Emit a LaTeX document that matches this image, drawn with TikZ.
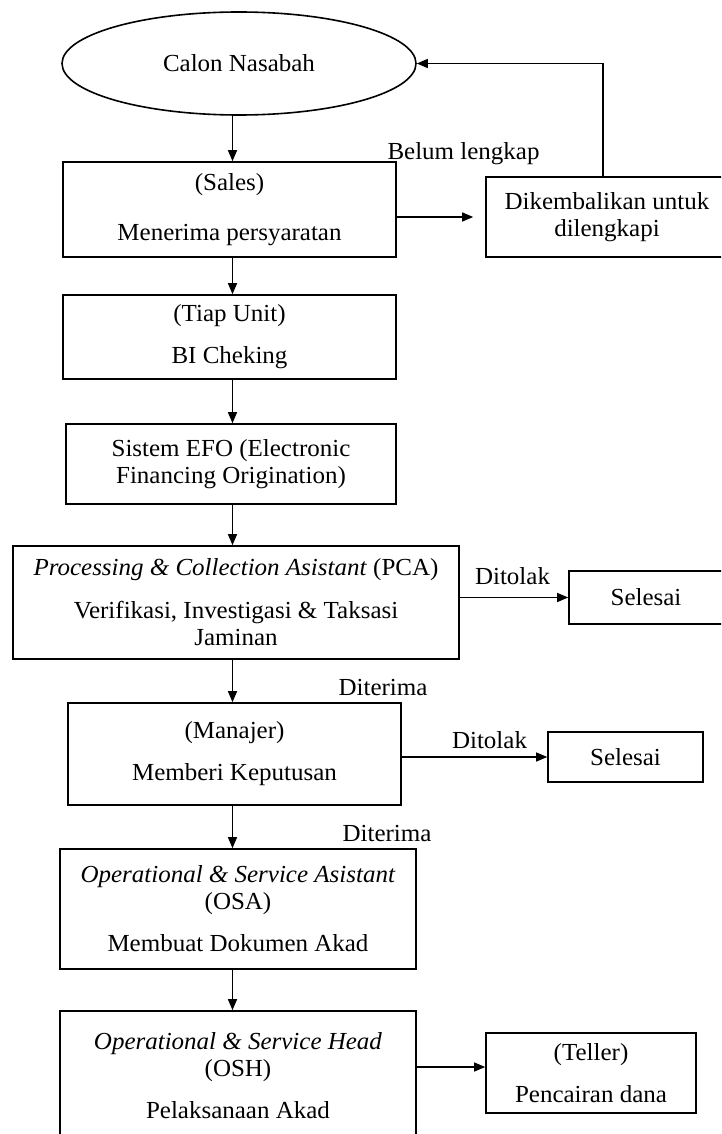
\documentclass[tikz,border=0pt]{standalone}
\usepackage{fontspec}
\setmainfont{Liberation Serif}[FakeStretch=1.02]
\usetikzlibrary{shapes.geometric,arrows.meta}
\begin{document}
\begin{tikzpicture}[x=1pt,y=-1pt,
  box/.style={draw,line width=1.6pt,inner sep=0pt,align=center,anchor=center},
  lbl/.style={inner sep=0pt,anchor=center},
  arr/.style={line width=1.2pt,-{Triangle[length=11pt,width=9pt]}},
  font=\fontsize{24.5}{27}\selectfont]
\useasboundingbox (0,0) rectangle (721,1134);
\clip (0,0) rectangle (721,1134);
\fill[white] (0,0) rectangle (721,1134);
\coordinate (ax) at (232.5,0);
\coordinate (fb) at (603,0);

\node[box,ellipse,minimum width=354pt,minimum height=103pt] (ell) at (239,63.5) {Calon Nasabah};
\node[box,minimum width=333pt,minimum height=95pt] (sales) at (229.5,209.5) {(Sales)\\[23pt]Menerima persyaratan};
\node[box,minimum width=242pt,minimum height=80pt] (dik) at (607,217) {Dikembalikan untuk\\dilengkapi};
\node[box,minimum width=333pt,minimum height=84pt] (tiap) at (229.5,337) {(Tiap Unit)\\[15pt]BI Cheking};
\node[box,minimum width=330pt,minimum height=80pt] (efo) at (231,464) {Sistem EFO (Electronic\\Financing Origination)};
\node[box,minimum width=446pt,minimum height=113pt] (pca) at (236,602.5) {\textit{Processing \& Collection Asistant} (PCA)\\[16pt]Verifikasi, Investigasi \& Taksasi\\Jaminan};
\node[box,minimum width=154pt,minimum height=53pt] (sel1) at (646,597.5) {Selesai};
\node[box,minimum width=333pt,minimum height=102pt] (man) at (234.5,754) {(Manajer)\\[15pt]Memberi Keputusan};
\node[box,minimum width=155pt,minimum height=50pt] (sel2) at (625.5,757) {Selesai};
\node[box,minimum width=356pt,minimum height=120pt] (osa) at (238,909) {\textit{Operational \& Service Asistant}\\(OSA)\\[15pt]Membuat Dokumen Akad};
\node[box,minimum width=356pt,minimum height=129pt] (osh) at (238,1075.5) {\textit{Operational \& Service Head}\\(OSH)\\[15pt]Pelaksanaan Akad};
\node[box,minimum width=210pt,minimum height=80pt] (tel) at (591,1073) {(Teller)\\[15pt]Pencairan dana};
\coordinate (tw) at ([yshift=6pt]tel.west);

\node[lbl] (l1) at (463.5,154) {Belum lengkap};
\node[lbl] (l2) at (512.5,576) {Ditolak};
\node[lbl] (l3) at (383,688) {Diterima};
\node[lbl] (l4) at (489.5,740) {Ditolak};
\node[lbl] (l5) at (387,833) {Diterima};

\draw[arr] (ell.south -| ax) -- (sales.north -| ax);
\draw[arr] (sales.south -| ax) -- (tiap.north -| ax);
\draw[arr] (tiap.south -| ax) -- (efo.north -| ax);
\draw[arr] (efo.south -| ax) -- (pca.north -| ax);
\draw[arr] (pca.south -| ax) -- (man.north -| ax);
\draw[arr] (man.south -| ax) -- (osa.north -| ax);
\draw[arr] (osa.south -| ax) -- (osh.north -| ax);
\draw[arr,shorten >=12pt] (sales.east |- dik.center) -- (dik.west);
\draw[arr] (dik.north -| fb) |- (ell.east);
\draw[arr] (pca.east |- sel1.west) -- (sel1.west);
\draw[arr] (man.east |- sel2.west) -- (sel2.west);
\draw[arr] (osh.east |- tw) -- (tw);
\end{tikzpicture}
\end{document}
